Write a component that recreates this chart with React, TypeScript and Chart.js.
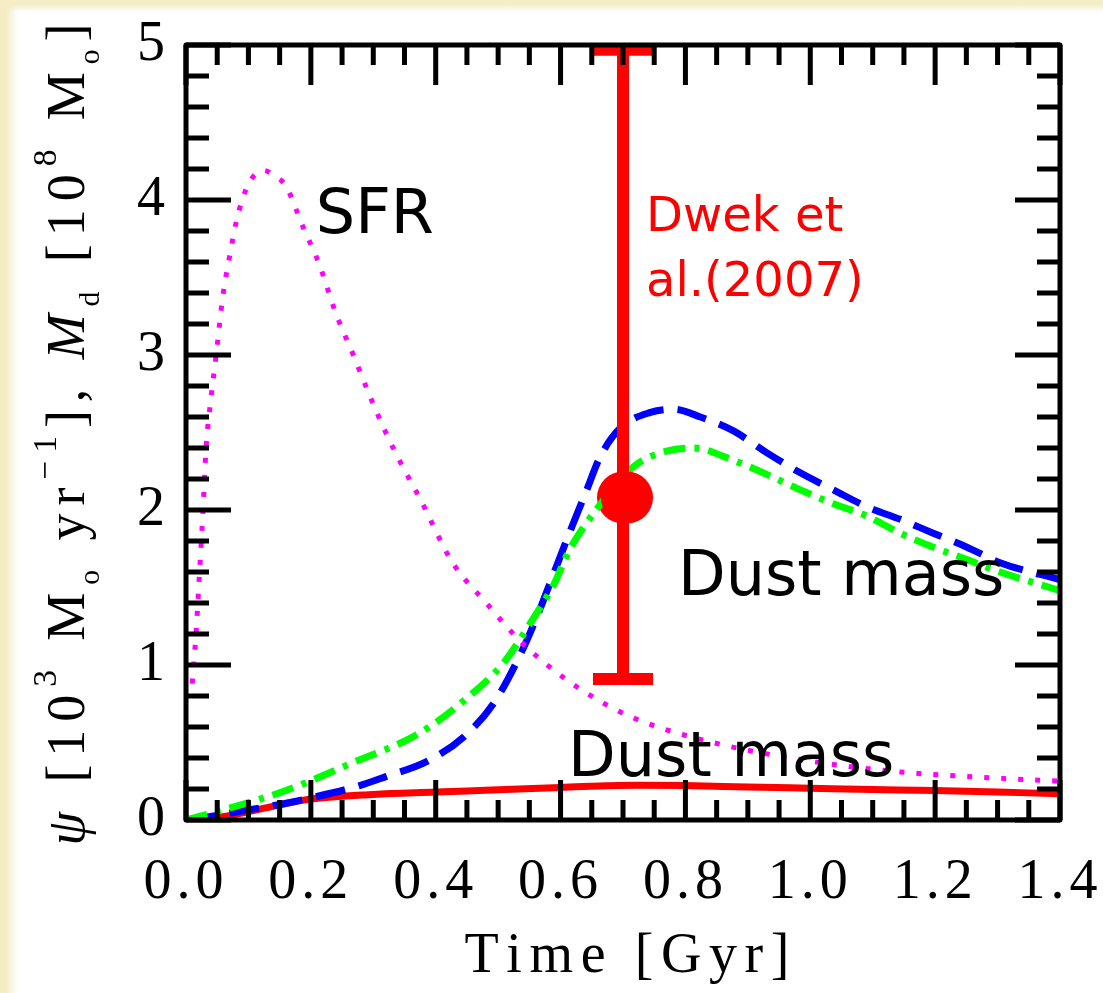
import React, { useEffect, useRef } from "react";
import { Chart, registerables } from "chart.js";

Chart.register(...registerables);

// ---- data ----
const sfrTime = [0.010, 0.016, 0.021, 0.027, 0.032, 0.040, 0.048, 0.059, 0.070, 0.080, 0.090, 0.101, 0.112, 0.125, 0.140, 0.160, 0.187, 0.213, 0.240, 0.267, 0.293, 0.320, 0.347, 0.374, 0.427, 0.481, 0.534, 0.588, 0.641, 0.710, 0.824, 0.984, 1.144, 1.300, 1.400];
const sfrRate = [0.88, 1.20, 1.55, 1.98, 2.39, 2.72, 2.99, 3.38, 3.64, 3.85, 4.00, 4.11, 4.17, 4.19, 4.16, 4.09, 3.83, 3.59, 3.27, 3.01, 2.75, 2.50, 2.28, 2.08, 1.66, 1.40, 1.16, 0.97, 0.82, 0.67, 0.52, 0.39, 0.31, 0.27, 0.25];

const blueTime = [0, 0.05, 0.10, 0.15, 0.197, 0.277, 0.320, 0.387, 0.446, 0.494, 0.537, 0.566, 0.588, 0.614, 0.641, 0.663, 0.696, 0.744, 0.781, 0.824, 0.877, 0.930, 0.984, 1.037, 1.091, 1.144, 1.197, 1.251, 1.304, 1.400];
const blueMass = [0, 0.03, 0.065, 0.10, 0.14, 0.22, 0.28, 0.38, 0.54, 0.76, 1.08, 1.35, 1.58, 1.85, 2.12, 2.34, 2.53, 2.63, 2.65, 2.60, 2.51, 2.37, 2.24, 2.13, 2.02, 1.94, 1.85, 1.76, 1.66, 1.55];

const greenTime = [0, 0.064, 0.16, 0.267, 0.374, 0.454, 0.508, 0.561, 0.588, 0.614, 0.657, 0.717, 0.770, 0.813, 0.877, 0.930, 0.984, 1.037, 1.091, 1.144, 1.197, 1.251, 1.304, 1.400];
const greenMass = [0, 0.07, 0.19, 0.37, 0.56, 0.80, 1.01, 1.33, 1.51, 1.74, 2.00, 2.28, 2.38, 2.40, 2.32, 2.23, 2.13, 2.04, 1.96, 1.85, 1.76, 1.68, 1.60, 1.48];

const redTime = [0, 0.064, 0.13, 0.20, 0.30, 0.40, 0.50, 0.60, 0.72, 0.80, 0.90, 1.00, 1.10, 1.20, 1.30, 1.40];
const redMass = [0, 0.025, 0.08, 0.135, 0.165, 0.18, 0.195, 0.21, 0.225, 0.222, 0.213, 0.205, 0.197, 0.19, 0.18, 0.17];

const obsTime = [0.7];
const obsMass = [2.08];
const obsLow = [0.91];
const obsHigh = [4.97];

const xAxisTitle = "Time [Gyr]";
const yAxisTitle = [
  { t: "ψ", italic: true },
  { t: " [10" },
  { t: "3", pos: "sup" },
  { t: " M" },
  { t: "o", pos: "sub" },
  { t: " yr" },
  { t: "−1", pos: "sup" },
  { t: "], " },
  { t: "M", italic: true },
  { t: "d", pos: "sub" },
  { t: " [10" },
  { t: "8", pos: "sup" },
  { t: " M" },
  { t: "o", pos: "sub" },
  { t: "]" },
];

const notes = [
  { lines: ["SFR"], x: 0.208, y: 3.79, color: "#000000", size: 62 },
  { lines: ["Dwek et", "al.(2007)"], x: 0.737, y: 3.80, color: "#FF0000", size: 48 },
  { lines: ["Dust mass"], x: 0.788, y: 1.45, color: "#000000", size: 62 },
  { lines: ["Dust mass"], x: 0.612, y: 0.284, color: "#000000", size: 62 },
];

const SERIF = '"Liberation Serif", "DejaVu Serif", serif';
const SANS = '"DejaVu Sans", sans-serif';

const pts = (xs: number[], ys: number[]) => xs.map((x, i) => ({ x, y: ys[i] }));

type Piece = { t: string; italic?: boolean; pos?: string };

function pieceFont(p: Piece, F: number) {
  const size = p.pos === "sup" ? F * 0.62 : p.pos === "sub" ? F * 0.55 : F;
  return `${p.italic ? "italic " : ""}${size}px ${SERIF}`;
}
function pieceShift(p: Piece, F: number) {
  if (p.pos === "sup") return -F * 0.52;
  if (p.pos === "sub") return F * 0.28;
  return 0;
}

function drawSpaced(ctx: CanvasRenderingContext2D, pieces: Piece[], F: number, target: number, cx: number, baseY: number) {
  let natural = 0;
  let n = 0;
  pieces.forEach((p) => {
    ctx.font = pieceFont(p, F);
    for (const ch of Array.from(p.t)) {
      natural += ctx.measureText(ch).width;
      n++;
    }
  });
  let extra = n > 1 ? (target - natural) / (n - 1) : 0;
  extra = Math.max(0, Math.min(12, extra));
  const total = natural + extra * (n - 1);
  let x = cx - total / 2;
  ctx.textBaseline = "alphabetic";
  ctx.textAlign = "left";
  pieces.forEach((p) => {
    ctx.font = pieceFont(p, F);
    for (const ch of Array.from(p.t)) {
      ctx.fillText(ch, x, baseY + pieceShift(p, F));
      x += ctx.measureText(ch).width + extra;
    }
  });
}

const decorPlugin = {
  id: "decor",
  beforeDraw(chart: any) {
    // wide spacing of the tick label digits
    (chart.ctx as any).letterSpacing = "5px";
  },
  afterDatasetsDraw(chart: any) {
    const ctx: CanvasRenderingContext2D = chart.ctx;
    (ctx as any).letterSpacing = "0px";
    const xs = chart.scales.x;
    const ys = chart.scales.y;
    const { left, right, top, bottom } = chart.chartArea;

    // error bar with its filled marker
    ctx.save();
    ctx.strokeStyle = "#FF0000";
    ctx.fillStyle = "#FF0000";
    ctx.lineWidth = 12;
    ctx.lineCap = "butt";
    obsTime.forEach((t, i) => {
      const px = xs.getPixelForValue(t);
      const pm = ys.getPixelForValue(obsMass[i]);
      const pl = ys.getPixelForValue(obsLow[i]);
      const ph = ys.getPixelForValue(obsHigh[i]);
      ctx.beginPath();
      ctx.moveTo(px, pl);
      ctx.lineTo(px, ph);
      ctx.stroke();
      ctx.beginPath();
      ctx.moveTo(px - 30, pl);
      ctx.lineTo(px + 30, pl);
      ctx.moveTo(px - 30, ph);
      ctx.lineTo(px + 30, ph);
      ctx.stroke();
      ctx.beginPath();
      ctx.arc(px + 4, pm, 26, 0, Math.PI * 2);
      ctx.fill();
    });
    ctx.restore();

    // text annotations
    ctx.save();
    ctx.textBaseline = "alphabetic";
    ctx.textAlign = "left";
    notes.forEach((n) => {
      ctx.fillStyle = n.color;
      ctx.font = `${n.size}px ${SANS}`;
      const px = xs.getPixelForValue(n.x);
      const py = ys.getPixelForValue(n.y);
      n.lines.forEach((line, k) => ctx.fillText(line, px, py + k * n.size * 1.35));
    });
    ctx.restore();

    // frame and inward ticks
    ctx.save();
    ctx.strokeStyle = "#000";
    ctx.lineWidth = 5;
    ctx.lineCap = "butt";
    ctx.beginPath();
    for (let i = 0; i <= 28; i++) {
      const px = xs.getPixelForValue(i * 0.05);
      const len = i % 4 === 0 ? 40 : 20;
      ctx.moveTo(px, bottom);
      ctx.lineTo(px, bottom - len);
      ctx.moveTo(px, top);
      ctx.lineTo(px, top + len);
    }
    for (let i = 0; i <= 25; i++) {
      const py = ys.getPixelForValue(i * 0.2);
      const len = i % 5 === 0 ? 45 : 23;
      ctx.moveTo(left, py);
      ctx.lineTo(left + len, py);
      ctx.moveTo(right, py);
      ctx.lineTo(right - len, py);
    }
    ctx.stroke();
    ctx.lineJoin = "round";
    ctx.strokeRect(left, top, right - left, bottom - top);
    ctx.restore();
  },
  afterDraw(chart: any) {
    const ctx: CanvasRenderingContext2D = chart.ctx;
    (ctx as any).letterSpacing = "0px";
    const { left, right, top, bottom } = chart.chartArea;
    ctx.save();
    ctx.fillStyle = "#000";
    // x title
    drawSpaced(ctx, [{ t: xAxisTitle }], 56, 325, (left + right) / 2 + 4, bottom + 152);
    // y title (rotated)
    ctx.translate(84, (top + bottom) / 2 + 2);
    ctx.rotate(-Math.PI / 2);
    drawSpaced(ctx, yAxisTitle, 54, 822, 0, 0);
    ctx.restore();
  },
};

export default function App() {
  const ref = useRef<HTMLCanvasElement | null>(null);

  useEffect(() => {
    if (!ref.current) return;
    const chart = new Chart(ref.current, {
      type: "line",
      data: {
        datasets: [
          {
            label: "SFR",
            data: pts(sfrTime, sfrRate),
            borderColor: "#FF00FF",
            borderWidth: 5,
            borderDash: [5, 12],
            pointRadius: 0,
            cubicInterpolationMode: "monotone",
            fill: false,
          },
          {
            label: "Dust (green)",
            data: pts(greenTime, greenMass),
            borderColor: "#00FF00",
            borderWidth: 7,
            borderDash: [22, 9, 5, 9],
            pointRadius: 0,
            cubicInterpolationMode: "monotone",
            fill: false,
          },
          {
            label: "Dust (blue)",
            data: pts(blueTime, blueMass),
            borderColor: "#0000FF",
            borderWidth: 7,
            borderDash: [30, 14],
            pointRadius: 0,
            cubicInterpolationMode: "monotone",
            fill: false,
          },
          {
            label: "Dust (red)",
            data: pts(redTime, redMass),
            borderColor: "#FF0000",
            borderWidth: 7,
            pointRadius: 0,
            cubicInterpolationMode: "monotone",
            fill: false,
          },
          {
            label: "Dwek et al. (2007)",
            data: pts(obsTime, obsMass),
            showLine: false,
            pointRadius: 26,
            pointBackgroundColor: "#FF0000",
            pointBorderWidth: 0,
            borderColor: "#FF0000",
          },
        ],
      },
      options: {
        animation: false,
        responsive: false,
        events: [],
        layout: { padding: { left: 0, right: 43, top: 45, bottom: 0 } },
        plugins: { legend: { display: false }, tooltip: { enabled: false } },
        scales: {
          x: {
            type: "linear",
            min: 0,
            max: 1.4,
            afterFit: (s: any) => {
              s.height = 173;
              s.paddingLeft = 0;
              s.paddingRight = 0;
            },
            grid: { display: false, drawTicks: false },
            border: { display: false },
            ticks: {
              stepSize: 0.2,
              padding: 30,
              color: "#000",
              maxRotation: 0,
              autoSkip: false,
              font: { family: SERIF, size: 56 },
              callback: (v: any) => Number(v).toFixed(1),
            },
          },
          y: {
            type: "linear",
            min: 0,
            max: 5,
            afterFit: (s: any) => {
              s.width = 186;
              s.paddingTop = 0;
              s.paddingBottom = 0;
            },
            grid: { display: false, drawTicks: false },
            border: { display: false },
            ticks: {
              stepSize: 1,
              padding: 16,
              color: "#000",
              font: { family: SERIF, size: 56 },
              callback: (v: any) => String(Math.round(Number(v))),
            },
          },
        },
      },
      plugins: [decorPlugin],
    } as any);
    return () => chart.destroy();
  }, []);

  return (
    <div
      style={{
        position: "absolute",
        left: 0,
        top: 0,
        width: 1103,
        height: 993,
        background:
          "linear-gradient(to bottom, #F4EDC6 0px, #F4EDC6 4px, rgba(255,255,255,0) 12px), linear-gradient(to right, #F3ECC2 0px, #F3ECC2 6px, rgba(255,255,255,0) 18px), #FFFFFF",
      }}
    >
      <canvas ref={ref} width={1103} height={993} style={{ display: "block" }} />
    </div>
  );
}
